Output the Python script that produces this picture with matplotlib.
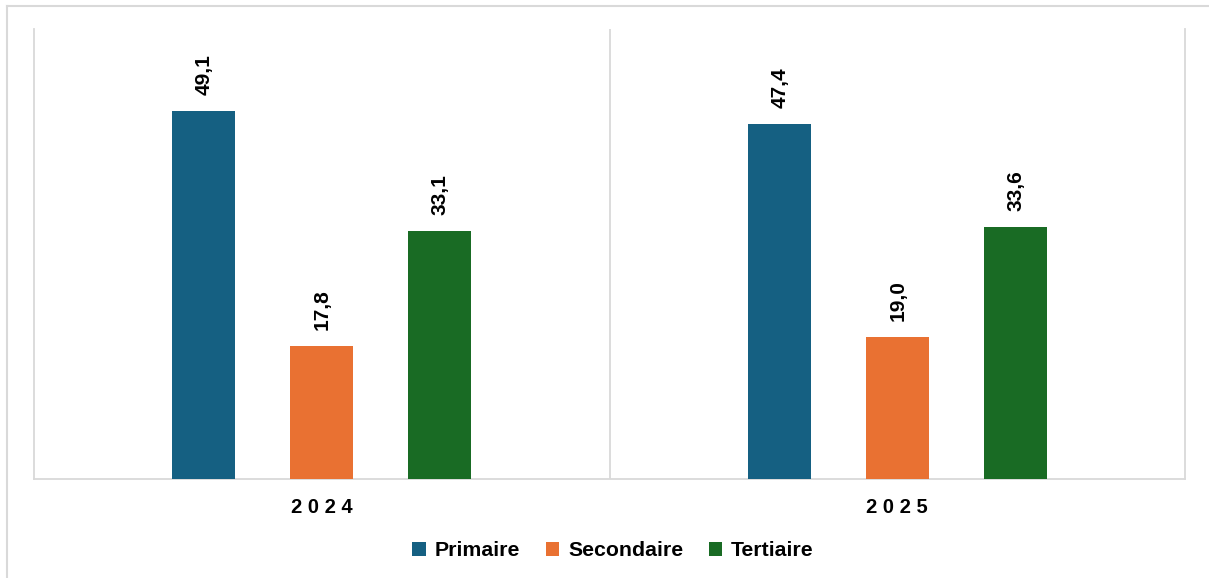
import matplotlib
matplotlib.use("Agg")
import matplotlib.pyplot as plt
from matplotlib.lines import Line2D
import numpy as np

years = ["2024", "2025"]
series_names = ["Primaire", "Secondaire", "Tertiaire"]
primaire = [49.1, 47.4]
secondaire = [17.8, 19.0]
tertiaire = [33.1, 33.6]
colors = ["#156082", "#E97132", "#196B24"]

plt.rcParams["font.family"] = ["Liberation Sans", "DejaVu Sans"]

W, H = 1209, 578
fig = plt.figure(figsize=(W / 100, H / 100), dpi=100)
ax = fig.add_axes([34 / W, 1 - 479 / H, (1185 - 34) / W, (479 - 29) / H])

x = np.arange(len(years))
offsets = [-0.205, 0.0, 0.205]
width = 0.11
all_series = [primaire, secondaire, tertiaire]
for vals, off, col, name in zip(all_series, offsets, colors, series_names):
    bars = ax.bar(x + off, vals, width=width, color=col, label=name, zorder=3)
    for b, v in zip(bars, vals):
        ax.annotate(f"{v:.1f}".replace(".", ","),
                    xy=(b.get_x() + b.get_width() / 2, b.get_height()),
                    xytext=(0.5, 11.5), textcoords="offset points",
                    rotation=90, ha="center", va="bottom",
                    fontsize=15, fontweight="bold", color="black")

ax.set_xlim(-0.5, len(years) - 0.5)
ax.set_ylim(0, 60)
ax.set_yticks([])
ax.set_xticks(x)
ax.set_xticklabels([" ".join(y) for y in years], fontsize=14.5, fontweight="bold")
ax.tick_params(axis="x", length=0, pad=14)

gray = "#D9D9D9"
for s in ["left", "right", "bottom"]:
    ax.spines[s].set_color(gray)
    ax.spines[s].set_linewidth(1.3)
ax.spines["top"].set_visible(False)
for xs in x[:-1] + 0.5:
    ax.axvline(xs, color=gray, linewidth=1.3, zorder=1)

leg = fig.legend(loc="center", bbox_to_anchor=(613 / W, 1 - 551 / H),
                 ncol=3, frameon=False, prop={"weight": "bold", "size": 15.3},
                 handlelength=0.65, handleheight=0.65, handletextpad=0.4,
                 columnspacing=1.2)

# figure border (top and left)
fig.add_artist(Line2D([7 / W, 1.0], [1 - 5.5 / H, 1 - 5.5 / H], color=gray,
                      linewidth=1.5, transform=fig.transFigure))
fig.add_artist(Line2D([7 / W, 7 / W], [0.0, 1 - 5.5 / H], color=gray,
                      linewidth=1.5, transform=fig.transFigure))

fig.savefig("out.png", dpi=100)
